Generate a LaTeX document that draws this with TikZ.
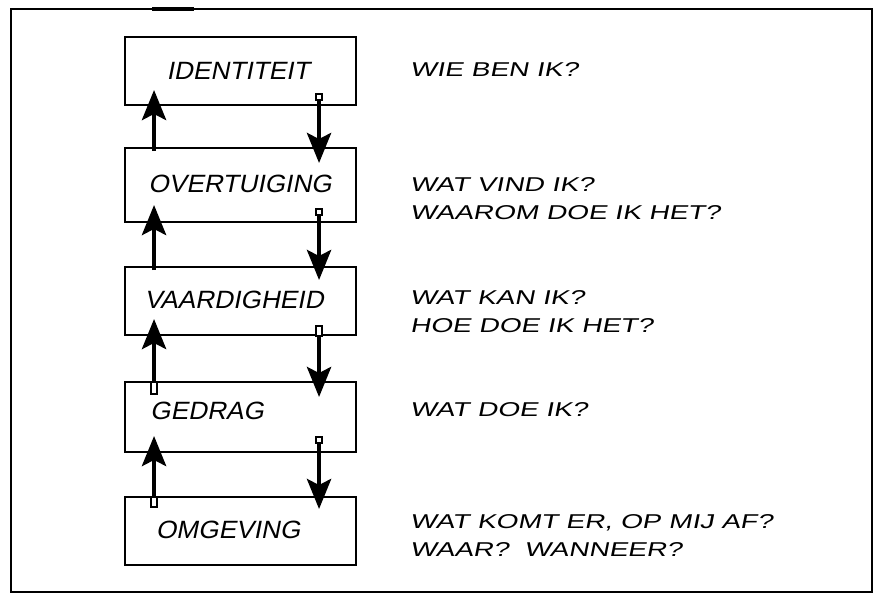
\documentclass[tikz,border=0pt]{standalone}
\usepackage{fontspec}
\usetikzlibrary{arrows.meta,calc}
% slanted, widened sans faces for the hand-lettered captions
\newfontfamily\handbox[FakeSlant=0.2,FakeStretch=1.05]{Liberation Sans}
\newfontfamily\handnote[FakeSlant=0.2,FakeStretch=1.4]{Liberation Sans}
\begin{document}
\begin{tikzpicture}[x=1pt,y=-1pt,
  frame/.style={draw=black,line width=1.8pt},
  levelbox/.style={draw=black,line width=1.9pt,rectangle,minimum width=231pt,
    minimum height=68pt,inner sep=0pt},
  boxtext/.style={font=\handbox\fontsize{25}{28}\selectfont,inner sep=0pt},
  notetext/.style={font=\handnote\fontsize{20}{28}\selectfont,anchor=west,
    align=left,inner sep=0pt},
  flow/.style={draw=black,line width=4.8pt,
    -{Stealth[length=30pt 0,width=24pt 0,inset=6pt 0]}},
  tailmark/.style={draw=black,fill=white,line width=1.2pt}
]
\useasboundingbox (0,0) rectangle (878,594);
\fill[white] (0,0) rectangle (878,594);

% outer frame with a few heavy pen marks
\draw[frame] (11,9) rectangle (872,592);
\fill[black] (152,7) rectangle (194,11);

% the five levels
\node[levelbox] (id) at (240.5,71) {};
\node[levelbox,minimum height=74pt] (ov) at (240.5,185) {};
\node[levelbox] (va) at (240.5,301) {};
\node[levelbox,minimum height=70pt] (ge) at (240.5,417) {};
\node[levelbox] (om) at (240.5,531) {};

\node[boxtext] (tid) at (238,71) {IDENTITEIT};
\node[boxtext] (tov) at (240,184) {OVERTUIGING};
\node[boxtext] (tva) at (234,300) {VAARDIGHEID};
\node[boxtext] (tge) at (207,411) {GEDRAG};
\node[boxtext] (tom) at (228,530) {OMGEVING};

% upward arrows on the left
\draw[flow] ($(ov.north west)+(30,4)$) -- ($(id.south west)+(30,-16)$);
\draw[flow] ($(va.north west)+(30,4)$) -- ($(ov.south west)+(30,-18)$);
\draw[flow] ($(ge.north west)+(30,12)$) -- ($(va.south west)+(30,-17)$);
\draw[flow] ($(om.north west)+(30,11)$) -- ($(ge.south west)+(30,-17)$);
\draw[tailmark] ($(ge.north west)+(27,1)$) rectangle ($(ge.north west)+(33,13)$);
\draw[tailmark] ($(om.north west)+(27,1)$) rectangle ($(om.north west)+(33,11)$);

% downward arrows on the right
\draw[flow] ($(id.south west)+(195,-10)$) -- ($(ov.north west)+(195,16)$);
\draw[flow] ($(ov.south west)+(195,-12)$) -- ($(va.north west)+(195,14)$);
\draw[flow] ($(va.south west)+(195,-10)$) -- ($(ge.north west)+(195,16)$);
\draw[flow] ($(ge.south west)+(195,-14)$) -- ($(om.north west)+(195,13)$);
\draw[tailmark] ($(id.south west)+(192,-12)$) rectangle ($(id.south west)+(198,-6)$);
\draw[tailmark] ($(ov.south west)+(192,-14)$) rectangle ($(ov.south west)+(198,-8)$);
\draw[tailmark] ($(va.south west)+(192,-10)$) rectangle ($(va.south west)+(198,0)$);
\draw[tailmark] ($(ge.south west)+(192,-16)$) rectangle ($(ge.south west)+(198,-10)$);

% questions beside each level
\node[notetext] (qid) at (410,70) {WIE BEN IK?};
\node[notetext] (qov) at (410,199) {WAT VIND IK?\\WAAROM DOE IK HET?};
\node[notetext] (qva) at (410,312) {WAT KAN IK?\\HOE DOE IK HET?};
\node[notetext] (qge) at (410,410) {WAT DOE IK?};
\node[notetext] (qom) at (410,536) {WAT KOMT ER, OP MIJ AF?\\WAAR?\ \ WANNEER?};
\end{tikzpicture}
\end{document}
